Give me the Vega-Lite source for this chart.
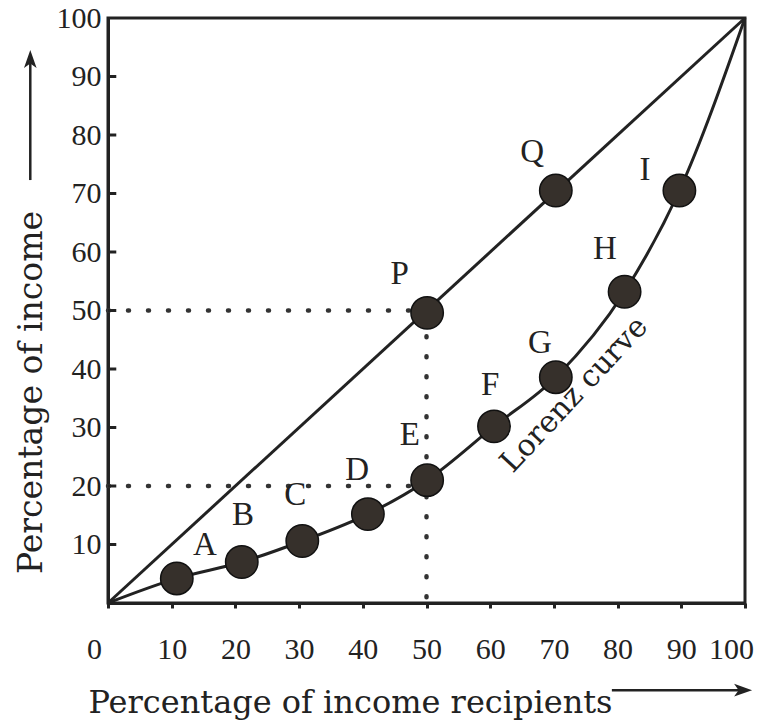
{
  "$schema": "https://vega.github.io/schema/vega-lite/v6.json",
  "width": 637,
  "height": 585,
  "autosize": "none",
  "padding": {"left": 108, "top": 18, "right": 17, "bottom": 121},
  "background": "white",
  "config": {
    "view": {"stroke": "#222", "strokeWidth": 3},
    "font": "Liberation Serif"
  },
  "datasets": {
    "guides": [
      {"x": 0, "y": 50, "x2": 50, "y2": 50},
      {"x": 0, "y": 20, "x2": 50, "y2": 20},
      {"x": 50, "y": 49, "x2": 50, "y2": 0}
    ],
    "yticks": [
      {"y": 10}, {"y": 20}, {"y": 30}, {"y": 40}, {"y": 50},
      {"y": 60}, {"y": 70}, {"y": 80}, {"y": 90}
    ],
    "diag": [
      {"x": 0, "y": 0},
      {"x": 100, "y": 100}
    ],
    "lorenz": [
      {"x": 0, "y": 0},
      {"x": 10.8, "y": 4.2},
      {"x": 21, "y": 7},
      {"x": 30.5, "y": 10.6},
      {"x": 40.8, "y": 15.2},
      {"x": 50.1, "y": 21},
      {"x": 60.6, "y": 30.2},
      {"x": 70.3, "y": 38.6},
      {"x": 81.1, "y": 53.2},
      {"x": 89.7, "y": 70.5},
      {"x": 100, "y": 100}
    ],
    "points": [
      {"label": "A", "x": 10.8, "y": 4.2},
      {"label": "B", "x": 21, "y": 7},
      {"label": "C", "x": 30.5, "y": 10.6},
      {"label": "D", "x": 40.8, "y": 15.2},
      {"label": "E", "x": 50.1, "y": 21},
      {"label": "F", "x": 60.6, "y": 30.2},
      {"label": "G", "x": 70.3, "y": 38.6},
      {"label": "H", "x": 81.1, "y": 53.2},
      {"label": "I", "x": 89.7, "y": 70.5},
      {"label": "P", "x": 50.1, "y": 49.6},
      {"label": "Q", "x": 70.3, "y": 70.5}
    ],
    "letters": [
      {"label": "A", "x": 15.2, "y": 9.9},
      {"label": "B", "x": 21.2, "y": 15.0},
      {"label": "C", "x": 29.4, "y": 18.5},
      {"label": "D", "x": 39.1, "y": 22.7},
      {"label": "E", "x": 47.4, "y": 28.8},
      {"label": "F", "x": 60.0, "y": 37.3},
      {"label": "G", "x": 67.8, "y": 44.4},
      {"label": "H", "x": 78.0, "y": 60.5},
      {"label": "I", "x": 84.3, "y": 74.0},
      {"label": "P", "x": 45.8, "y": 56.3},
      {"label": "Q", "x": 66.6, "y": 77.1}
    ],
    "curvelabel": [
      {"text": "Lorenz curve", "x": 73.2, "y": 35.6}
    ],
    "arrows": [
      {"axis": "x", "x": 79.1, "y": -14.9, "x2": 99.2, "y2": -14.9},
      {"axis": "y", "x": -12.2, "y": 72.3, "x2": -12.2, "y2": 92.3}
    ],
    "heads": [
      {"axis": "x", "x": 99.7, "y": -14.9},
      {"axis": "y", "x": -12.2, "y": 93.0}
    ]
  },
  "layer": [
    {
      "data": {"name": "guides"},
      "mark": {"type": "rule", "strokeDash": [1, 19], "strokeCap": "round", "strokeWidth": 4.5, "color": "#333"},
      "encoding": {
        "x": {
          "field": "x", "type": "quantitative",
          "scale": {"domain": [0, 100], "nice": false, "zero": false},
          "axis": {
            "title": "Percentage of income recipients",
            "values": [0, 10, 20, 30, 40, 50, 60, 70, 80, 90, 100],
            "grid": false,
            "labelFont": "Liberation Serif",
            "labelFontSize": 30,
            "labelColor": "#222",
            "labelPadding": 26,
            "labelFlush": false,
            "labelOverlap": false,
            "labelOffset": {"condition": {"test": "datum.value === 0 || datum.value === 100", "value": -14}, "value": 0},
            "tickSize": 5,
            "tickWidth": 3,
            "tickColor": "#222",
            "domainColor": "#222",
            "domainWidth": 3,
            "titleFont": "DejaVu Serif",
            "titleFontSize": 32,
            "titleFontWeight": "normal",
            "titleColor": "#222",
            "titleX": -20,
            "titleY": 109,
            "titleAlign": "left",
            "titleAnchor": null,
            "titleBaseline": "alphabetic"
          }
        },
        "y": {
          "field": "y", "type": "quantitative",
          "scale": {"domain": [0, 100], "nice": false, "zero": false},
          "axis": {
            "title": "Percentage of income",
            "values": [10, 20, 30, 40, 50, 60, 70, 80, 90, 100],
            "grid": false,
            "ticks": false,
            "tickSize": 0,
            "labelFont": "Liberation Serif",
            "labelFontSize": 30,
            "labelColor": "#222",
            "labelPadding": 7,
            "labelOverlap": false,
            "labelFlush": false,
            "domainColor": "#222",
            "domainWidth": 3,
            "titleFont": "DejaVu Serif",
            "titleFontSize": 33,
            "titleFontWeight": "normal",
            "titleColor": "#222",
            "titleX": -67,
            "titleY": 374,
            "titleAngle": -90,
            "titleAlign": "center",
            "titleAnchor": null,
            "titleBaseline": "alphabetic"
          }
        },
        "x2": {"field": "x2"},
        "y2": {"field": "y2"}
      }
    },
    {
      "data": {"name": "yticks"},
      "mark": {"type": "rule", "color": "#222", "strokeWidth": 3},
      "encoding": {
        "x": {"datum": 0, "type": "quantitative"},
        "x2": {"datum": 1.3},
        "y": {"field": "y", "type": "quantitative"}
      }
    },
    {
      "data": {"name": "diag"},
      "mark": {"type": "line", "color": "#222", "strokeWidth": 3},
      "encoding": {
        "x": {"field": "x", "type": "quantitative"},
        "y": {"field": "y", "type": "quantitative"}
      }
    },
    {
      "data": {"name": "lorenz"},
      "mark": {"type": "line", "color": "#222", "strokeWidth": 3, "interpolate": "monotone"},
      "encoding": {
        "x": {"field": "x", "type": "quantitative"},
        "y": {"field": "y", "type": "quantitative"}
      }
    },
    {
      "data": {"name": "points"},
      "mark": {"type": "point", "shape": "circle", "filled": true, "size": 1050, "fill": "#36302b", "stroke": "#111", "strokeWidth": 1.5, "opacity": 1},
      "encoding": {
        "x": {"field": "x", "type": "quantitative"},
        "y": {"field": "y", "type": "quantitative"}
      }
    },
    {
      "data": {"name": "letters"},
      "mark": {"type": "text", "font": "Liberation Serif", "fontSize": 33, "color": "#222", "align": "center", "baseline": "middle"},
      "encoding": {
        "x": {"field": "x", "type": "quantitative"},
        "y": {"field": "y", "type": "quantitative"},
        "text": {"field": "label"}
      }
    },
    {
      "data": {"name": "curvelabel"},
      "mark": {"type": "text", "font": "DejaVu Serif", "fontSize": 30, "color": "#222", "align": "center", "baseline": "middle", "angle": -47},
      "encoding": {
        "x": {"field": "x", "type": "quantitative"},
        "y": {"field": "y", "type": "quantitative"},
        "text": {"field": "text"}
      }
    },
    {
      "data": {"name": "arrows"},
      "mark": {"type": "rule", "color": "#222", "strokeWidth": 2.5},
      "encoding": {
        "x": {"field": "x", "type": "quantitative"},
        "y": {"field": "y", "type": "quantitative"},
        "x2": {"field": "x2"},
        "y2": {"field": "y2"}
      }
    },
    {
      "data": {"name": "heads"},
      "transform": [{"filter": "datum.axis === 'x'"}],
      "mark": {"type": "point", "shape": "M-1,-0.7L1,0L-1,0.7L-0.5,0Z", "filled": true, "size": 324, "fill": "#222", "opacity": 1, "strokeWidth": 0},
      "encoding": {
        "x": {"field": "x", "type": "quantitative"},
        "y": {"field": "y", "type": "quantitative"}
      }
    },
    {
      "data": {"name": "heads"},
      "transform": [{"filter": "datum.axis === 'y'"}],
      "mark": {"type": "point", "shape": "M-0.7,1L0,-1L0.7,1L0,0.5Z", "filled": true, "size": 324, "fill": "#222", "opacity": 1, "strokeWidth": 0},
      "encoding": {
        "x": {"field": "x", "type": "quantitative"},
        "y": {"field": "y", "type": "quantitative"}
      }
    }
  ]
}
